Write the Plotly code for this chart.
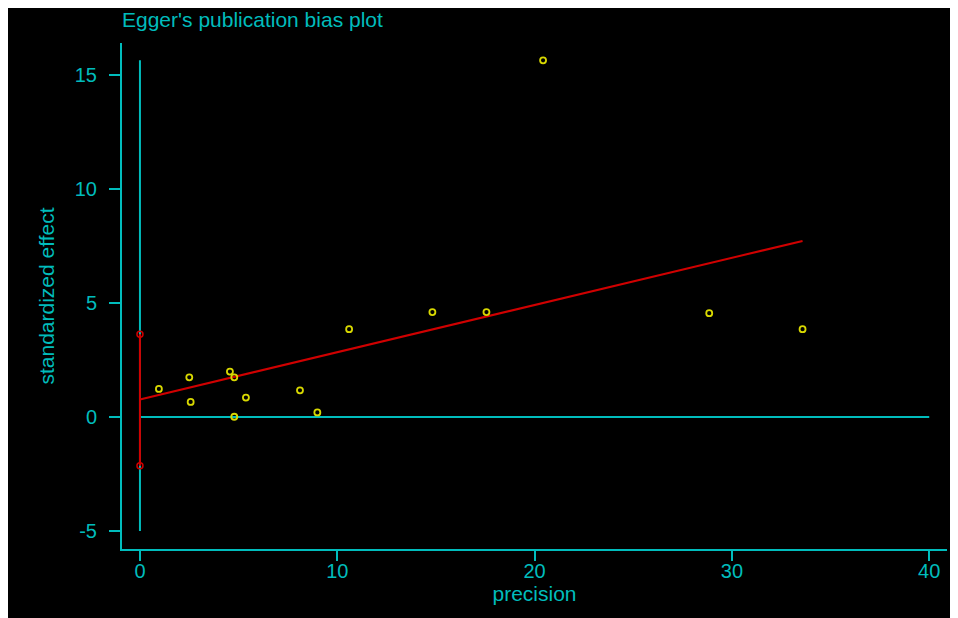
import plotly.graph_objects as go

# ---- data ----
precision = [0.96, 2.50, 2.57, 4.56, 4.78, 4.78, 5.37, 8.11, 8.99, 10.60,
             14.82, 17.56, 20.43, 28.85, 33.58]
std_effect = [1.23, 1.74, 0.66, 1.99, 1.74, 0.01, 0.85, 1.17, 0.20, 3.85,
              4.60, 4.60, 15.64, 4.55, 3.85]
intercept = 0.77
slope = 0.207
ci_bounds = [-2.14, 3.63]          # confidence interval of intercept
ref_vline_y = [-5, 15.64]          # vertical reference line at precision 0
ref_hline_x = [0, 40]              # horizontal reference line at effect 0
x_ticks = [0, 10, 20, 30, 40]
y_ticks = [-5, 0, 5, 10, 15]
y_tick_labels = ["-5", "0", "5", "10", "15"]

CYAN = "#00bcbc"
RED = "#d00000"
YELLOW = "#d8d800"
FONT = "Liberation Sans, Arial, sans-serif"

W, H = 958, 618
L, R, T, B = 114, 19, 35, 77

fig = go.Figure()

# reference lines
fig.add_trace(go.Scatter(x=[0, 0], y=ref_vline_y, mode="lines",
                         line=dict(color=CYAN, width=2), hoverinfo="skip"))
fig.add_trace(go.Scatter(x=ref_hline_x, y=[0, 0], mode="lines",
                         line=dict(color=CYAN, width=2), hoverinfo="skip"))

# intercept CI
fig.add_trace(go.Scatter(x=[0, 0], y=ci_bounds, mode="lines+markers",
                         line=dict(color=RED, width=2),
                         marker=dict(symbol="circle-open", size=6, color=RED,
                                     line=dict(width=1.5, color=RED))))

# regression line
x_end = max(precision)
fig.add_trace(go.Scatter(x=[0, x_end], y=[intercept, intercept + slope * x_end],
                         mode="lines", line=dict(color=RED, width=2)))

# studies
fig.add_trace(go.Scatter(x=precision, y=std_effect, mode="markers",
                         marker=dict(symbol="circle-open", size=6, color=YELLOW,
                                     line=dict(width=1.8, color=YELLOW))))

fig.update_layout(
    width=W, height=H,
    margin=dict(l=L, r=R, t=T, b=B),
    paper_bgcolor="black", plot_bgcolor="black",
    showlegend=False,
    font=dict(family=FONT, color=CYAN, size=20),
    title=dict(text="Egger's publication bias plot", x=L / W, xanchor="left",
               xref="container", y=1 - 12 / H, yanchor="middle",
               font=dict(size=21, color=CYAN, family=FONT)),
    xaxis=dict(range=[-0.91, 40.9], tickvals=x_ticks, showgrid=False,
               zeroline=False, showline=True, linecolor=CYAN, linewidth=2,
               ticks="outside", ticklen=10, tickwidth=2, tickcolor=CYAN,
               ticklabelstandoff=-7,
               tickfont=dict(size=20, color=CYAN),
               title=dict(text="precision", standoff=2,
                          font=dict(size=21, color=CYAN))),
    yaxis=dict(range=[-5.79, 16.4], tickvals=y_ticks, ticktext=y_tick_labels,
               showgrid=False,
               zeroline=False, showline=True, linecolor=CYAN, linewidth=2,
               ticks="outside", ticklen=11, tickwidth=2, tickcolor=CYAN,
               ticklabelstandoff=8,
               tickfont=dict(size=20, color=CYAN),
               title=dict(text="standardized effect", standoff=14,
                          font=dict(size=21, color=CYAN))),
)

fig.write_html("out.html")
